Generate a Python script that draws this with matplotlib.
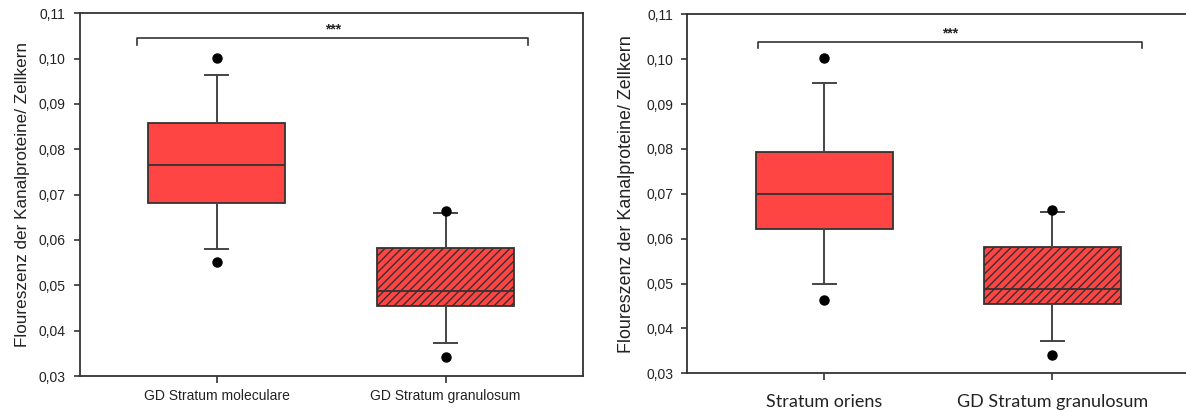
import matplotlib
matplotlib.use("Agg")
import matplotlib.pyplot as plt
from matplotlib.ticker import FixedLocator, FuncFormatter

# Kennwerte der Boxplots (Median, Quartile, Whisker, Ausreisser)
labels_links = ["GD Stratum moleculare", "GD Stratum granulosum"]
labels_rechts = ["Stratum oriens", "GD Stratum granulosum"]

med_links = [0.0765, 0.0487]
q1_links = [0.0682, 0.0454]
q3_links = [0.0858, 0.0582]
whislo_links = [0.0581, 0.0373]
whishi_links = [0.0965, 0.0659]
fliers_links = [[0.1002, 0.0552], [0.0663, 0.0341]]

med_rechts = [0.0699, 0.0487]
q1_rechts = [0.0622, 0.0454]
q3_rechts = [0.0794, 0.0581]
whislo_rechts = [0.0499, 0.0372]
whishi_rechts = [0.0948, 0.0659]
fliers_rechts = [[0.1003, 0.0464], [0.0663, 0.0341]]

yticks = [0.03, 0.04, 0.05, 0.06, 0.07, 0.08, 0.09, 0.10, 0.11]
signif = "***"

ROT = "#ff4444"
DUNKEL = "#333333"
plt.rcParams["hatch.color"] = "#222222"
plt.rcParams["hatch.linewidth"] = 1.0


def komma(v, pos):
    return f"{v:.2f}".replace(".", ",")


def boxplot_zeichnen(ax, labels, med, q1, q3, lo, hi, fl, xfont, xpad,
                     ylab_size, ylab_pad, bracket):
    stats = []
    for i in range(len(labels)):
        stats.append({"med": med[i], "q1": q1[i], "q3": q3[i],
                      "whislo": lo[i], "whishi": hi[i], "fliers": fl[i]})
    bp = ax.bxp(stats, positions=[1, 2], widths=0.6, capwidths=0.1,
                patch_artist=True, showfliers=True,
                boxprops=dict(facecolor=ROT, edgecolor=DUNKEL, linewidth=1.3),
                medianprops=dict(color=DUNKEL, linewidth=1.3),
                whiskerprops=dict(color="#444444", linewidth=1.4),
                capprops=dict(color="#444444", linewidth=1.4),
                flierprops=dict(marker="o", markerfacecolor="black",
                                markeredgecolor="black", markersize=6.5))
    bp["boxes"][1].set_hatch("////")

    ax.set_xlim(0.4, 2.6)
    ax.set_ylim(0.03, 0.11)
    ax.yaxis.set_major_locator(FixedLocator(yticks))
    ax.yaxis.set_major_formatter(FuncFormatter(komma))
    ax.set_xticks([1, 2])
    ax.set_xticklabels(labels, **xfont)
    ax.tick_params(axis="y", length=4, width=1.2, color=DUNKEL, labelsize=10,
                   labelcolor="#222222", pad=6)
    ax.tick_params(axis="x", length=5, width=1.2, color=DUNKEL, pad=xpad,
                   labelcolor="#222222")
    for s in ax.spines.values():
        s.set_color(DUNKEL)
        s.set_linewidth(1.3)
    ax.set_ylabel("Floureszenz der Kanalproteine/ Zellkern", fontsize=ylab_size,
                  color="#222222", labelpad=ylab_pad)

    # Signifikanzklammer
    x0, x1, yb, tip = bracket
    ax.plot([x0, x0, x1, x1], [yb - tip, yb, yb, yb - tip], color=DUNKEL,
            linewidth=1.2, clip_on=False)
    ax.text((x0 + x1) / 2, yb + 0.0003, signif, ha="center", va="bottom",
            fontsize=10, fontweight="bold", color="#222222")


plt.rcParams["font.family"] = ["Liberation Sans", "DejaVu Sans"]

fig = plt.figure(figsize=(11.86, 4.12), dpi=100)
ax1 = fig.add_axes([79.6 / 1186, 36 / 412, 503.3 / 1186, 362.7 / 412])
ax2 = fig.add_axes([687.1 / 1186, 38.7 / 412, 502.4 / 1186, 359 / 412])

boxplot_zeichnen(ax1, labels_links, med_links, q1_links, q3_links,
                 whislo_links, whishi_links, fliers_links,
                 dict(fontsize=10), 4.5, 12.3, 6.5,
                 (0.653, 2.361, 0.1046, 0.0016))
boxplot_zeichnen(ax2, labels_rechts, med_rechts, q1_rechts, q3_rechts,
                 whislo_rechts, whishi_rechts, fliers_rechts,
                 dict(fontsize=13, family=["Lato", "DejaVu Sans"]), 10,
                 12.9, 8, (0.71, 2.39, 0.1038, 0.0014))

fig.savefig("out.png", dpi=100, facecolor="white")
